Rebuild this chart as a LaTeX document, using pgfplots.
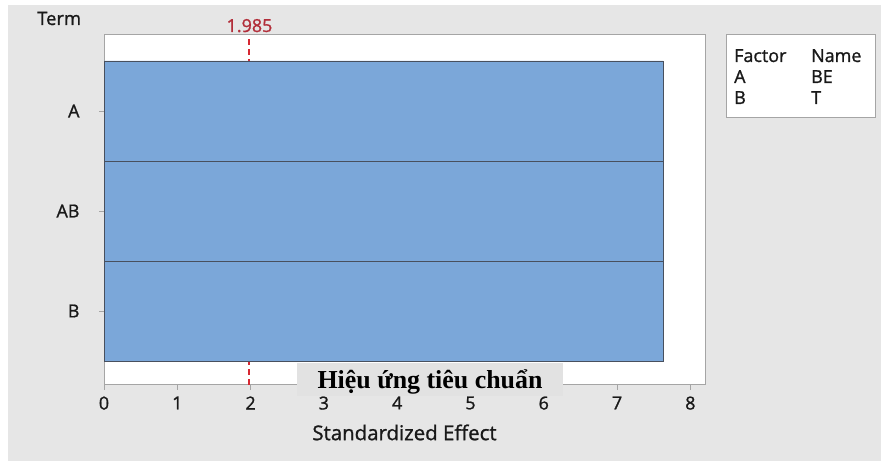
\documentclass[border=0pt]{standalone}
\usepackage{fontspec}
\setmainfont{Open Sans}[UprightFeatures={FakeBold=1.1}]
\newfontfamily\captionfont{Liberation Serif}
\usepackage{pgfplots}
\pgfplotsset{compat=1.18}

\definecolor{bgGray}{RGB}{230,230,230}
\definecolor{barBlue}{RGB}{123,167,217}
\definecolor{barEdge}{RGB}{72,80,94}
\definecolor{frameGray}{RGB}{165,165,165}
\definecolor{refRed}{RGB}{215,40,50}
\definecolor{labelRed}{RGB}{178,46,58}
\definecolor{textDark}{RGB}{25,25,25}
\definecolor{overlayGray}{RGB}{226,226,226}

\begin{document}
\begin{tikzpicture}[x=1bp,y=1bp]
  % page background
  \fill[white] (0,0) rectangle (883,461);
  \fill[bgGray] (8,0) rectangle (881,456);

  \begin{axis}[
    at={(104bp,76bp)}, anchor=south west,
    scale only axis, width=601bp, height=350bp,
    xmin=0, xmax=8.2, ymin=-0.74, ymax=2.76,
    clip=false,
    axis line style={frameGray, line width=1bp},
    axis background/.style={fill=white},
    xtick={0,1,...,8}, ytick={0,1,2}, yticklabels={B,AB,A},
    xtick pos=bottom, ytick pos=left,
    tick align=outside, major tick length=5bp,
    tick style={frameGray, line width=0.9bp},
    /pgf/number format/assume math mode=true,
    tick label style={font=\fontsize{18}{20}\selectfont, text=textDark},
    xticklabel style={yshift=-3bp},
    yticklabel style={xshift=-16bp},
    xlabel={Standardized Effect},
    xlabel style={font=\fontsize{20.5}{22}\selectfont, text=textDark, yshift=-8bp},
  ]
    % critical value line, drawn beneath the bars
    \addplot[draw=refRed, color=refRed, line width=2bp, dash pattern=on 6bp off 4bp, mark=none, forget plot]
      coordinates {(1.985,-0.74) (1.985,2.76)};
    \addplot[xbar, bar width=1, fill=barBlue, draw=barEdge, line width=0.9bp]
      coordinates {(7.63,0) (7.63,1) (7.63,2)};
    \node[text=labelRed, font=\fontsize{18}{20}\selectfont, anchor=base, inner sep=0pt]
      at ([yshift=3bp]axis cs:1.985,2.76) {1.985};
  \end{axis}

  % axis title for the terms
  \node[textDark, font=\fontsize{18.5}{20}\selectfont, anchor=base west, inner sep=0pt]
    at (37,436) {Term};

  % factor key
  \draw[frameGray, line width=1bp, fill=white] (726,343) rectangle (875,426);
  \begin{scope}[every node/.style={textDark, font=\fontsize{18}{20}\selectfont, anchor=base west, inner sep=0pt}]
    \node at (734,399) {Factor}; \node at (811,399) {Name};
    \node at (734,378) {A};      \node at (811,378) {BE};
    \node at (734,357) {B};      \node at (811,357) {T};
  \end{scope}

  % Vietnamese caption box over the axis
  \fill[overlayGray] (297,65) rectangle (563,98);
  \node[font=\captionfont\bfseries\fontsize{26}{28}\selectfont, anchor=base, inner sep=0pt, text=black]
    at (430,72) {Hiệu ứng tiêu chuẩn};
\end{tikzpicture}
\end{document}
